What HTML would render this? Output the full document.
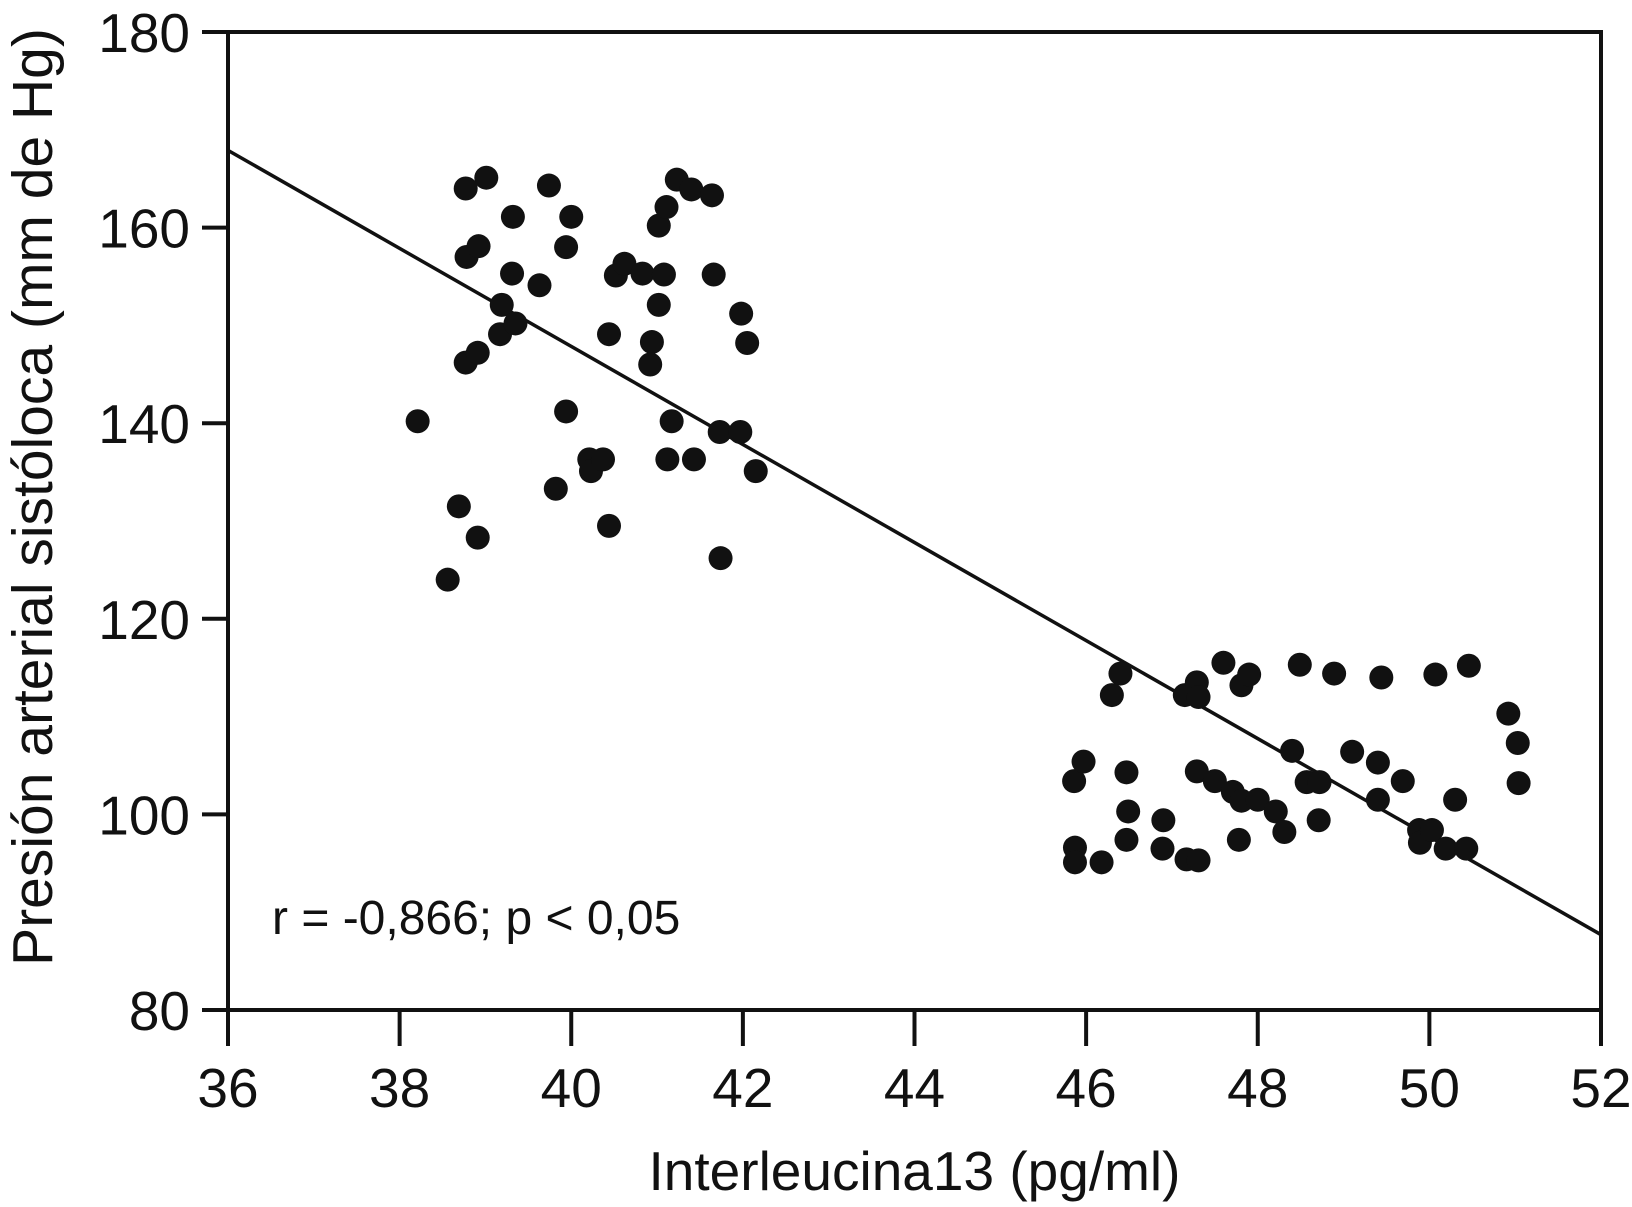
<!DOCTYPE html>
<html><head><meta charset="utf-8"><style>
html,body{margin:0;padding:0;background:#fff;}
svg{display:block;font-family:"Liberation Sans",Arial,sans-serif;}
</style></head><body>
<svg id="chart" width="1632" height="1207" viewBox="0 0 1632 1207" xmlns="http://www.w3.org/2000/svg"></svg>
<script>
const xTicks=[36,38,40,42,44,46,48,50,52];
const yTicks=[80,100,120,140,160,180];
const xVals=[38.21,38.77,39.01,38.78,38.92,39.32,39.19,39.31,39.17,39.35,38.77,38.91,38.69,38.91,38.56,39.74,39.63,40.00,39.94,39.94,39.82,40.21,40.23,40.37,40.44,40.44,40.52,40.62,40.83,40.94,40.92,41.02,41.02,41.11,41.08,41.23,41.40,41.64,41.66,41.17,41.12,41.43,41.73,41.74,41.98,42.05,41.97,42.15,
46.40,46.30,45.86,45.97,45.87,45.87,46.18,46.47,46.49,46.47,46.90,46.89,47.15,47.29,47.31,47.17,47.31,47.29,47.50,47.60,47.71,47.81,47.90,47.81,48.00,47.78,48.21,48.31,48.40,48.49,48.57,48.72,48.71,48.89,49.10,49.44,49.40,49.40,49.69,49.88,49.89,50.03,50.07,50.19,50.30,50.43,50.46,50.92,51.03,51.04];
const yVals=[140.2,164.0,165.1,157.0,158.1,161.1,152.1,155.3,149.1,150.2,146.2,147.2,131.5,128.3,124.0,164.3,154.1,161.1,158.0,141.2,133.3,136.3,135.1,136.3,129.5,149.1,155.1,156.3,155.3,148.3,146.0,152.1,160.2,162.1,155.2,164.9,163.9,163.3,155.2,140.2,136.3,136.3,139.1,126.2,151.2,148.2,139.1,135.1,
114.4,112.2,103.4,105.4,96.6,95.1,95.1,104.3,100.3,97.4,99.4,96.5,112.2,113.5,112.0,95.4,95.3,104.4,103.4,115.5,102.3,113.2,114.3,101.4,101.5,97.4,100.3,98.2,106.5,115.3,103.3,103.3,99.4,114.4,106.4,114.0,105.3,101.5,103.4,98.4,97.1,98.4,114.3,96.5,101.5,96.5,115.2,110.3,107.3,103.2];
const lineX=[36,52];
const lineY=[167.9,87.7];

const L=228,R=1601,T=32,B=1010;
const sx=v=>L+(v-36)/(52-36)*(R-L);
const sy=v=>B-(v-80)/(180-80)*(B-T);
const svg=document.getElementById('chart');
const NS='http://www.w3.org/2000/svg';
function mk(tag,attrs,parent){const e=document.createElementNS(NS,tag);for(const k in attrs)e.setAttribute(k,attrs[k]);(parent||svg).appendChild(e);return e;}

const frame=mk('rect',{x:L,y:T,width:R-L,height:B-T,fill:'none',stroke:'#111','stroke-width':4});



const xg=mk('g',{});


xTicks.forEach(t=>{
  const ln=mk('line',{x1:sx(t),x2:sx(t),y1:B,y2:B+36,stroke:'#111','stroke-width':4},xg);
  
  
  const tx=mk('text',{x:sx(t),y:1107,'font-size':55,'text-anchor':'middle',fill:'#111'},xg);
  
  
  tx.textContent=t;
});
const yg=mk('g',{});


yTicks.forEach(t=>{
  const ln=mk('line',{x1:L-26,x2:L,y1:sy(t),y2:sy(t),stroke:'#111','stroke-width':4},yg);
  
  
  const tx=mk('text',{x:L-38,y:sy(t)+20,'font-size':55,'text-anchor':'end',fill:'#111'},yg);
  
  
  tx.textContent=t;
});

const xt=mk('text',{x:(L+R)/2,y:1190,'font-size':55,'text-anchor':'middle',fill:'#111'});


xt.textContent='Interleucina13 (pg/ml)';
const yt=mk('text',{x:0,y:0,'font-size':57,'text-anchor':'middle',fill:'#111',transform:'translate(52,497) rotate(-90)'});


yt.textContent='Presión arterial sistóloca (mm de Hg)';

const st=mk('text',{x:272,y:934,'font-size':48,fill:'#111'});


st.textContent='r = -0,866; p < 0,05';

const rl=mk('line',{x1:sx(lineX[0]),y1:sy(lineY[0]),x2:sx(lineX[1]),y2:sy(lineY[1]),stroke:'#111','stroke-width':3.5});



const pg=mk('g',{});


xVals.forEach((v,i)=>{
  const c=mk('circle',{cx:sx(v),cy:sy(yVals[i]),r:12,fill:'#111'},pg);
  
  
});
</script>
</body></html>
